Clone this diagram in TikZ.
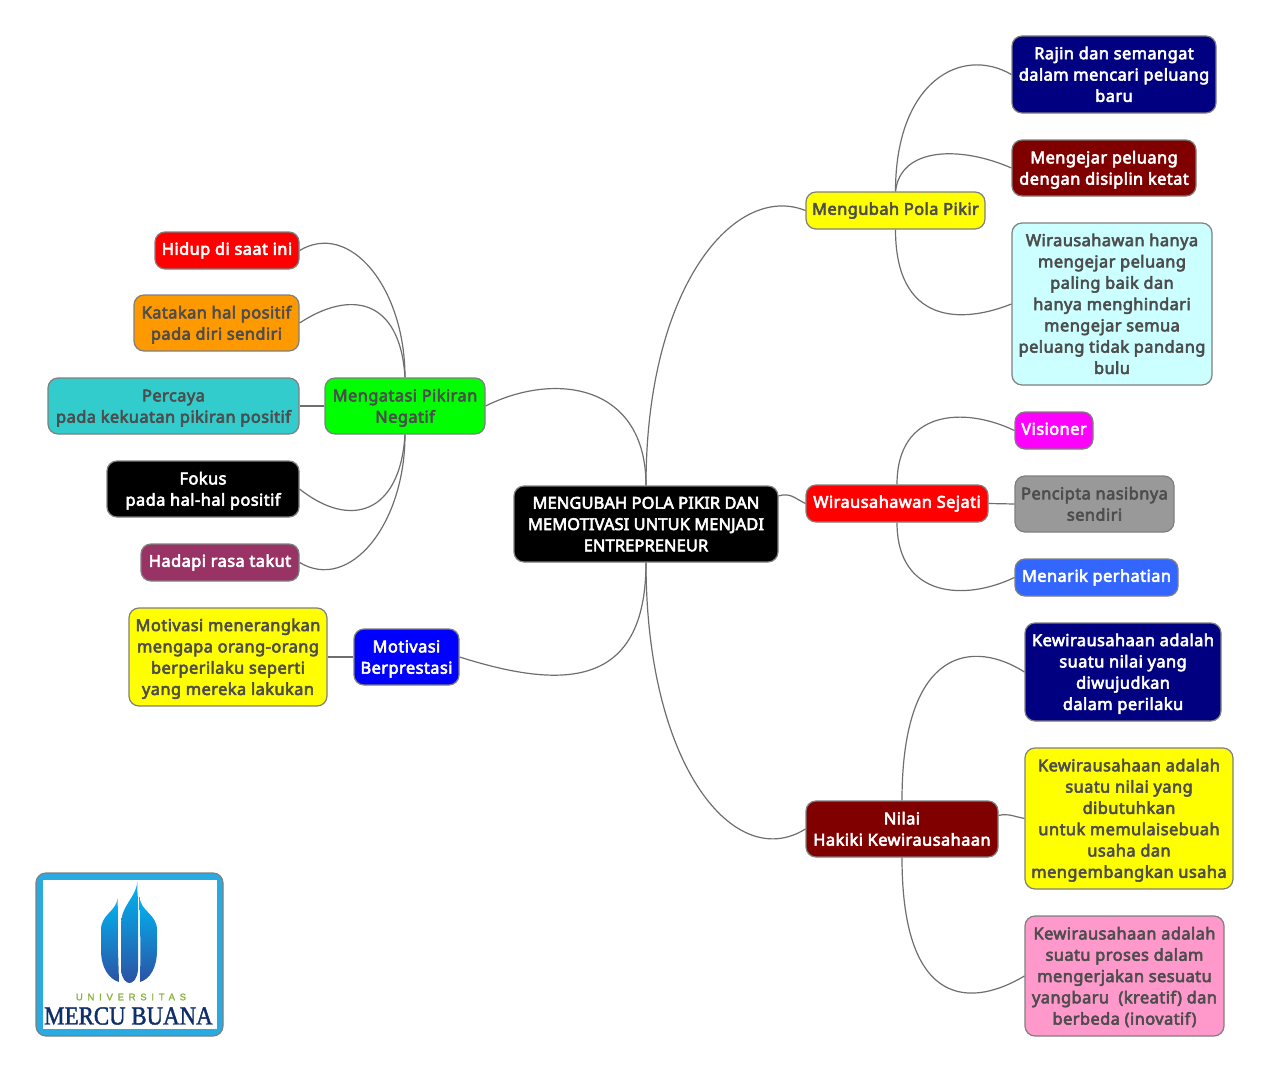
\documentclass[tikz,border=0pt]{standalone}
\usepackage{fontspec}
\setmainfont{Noto Sans}
\newfontfamily\topicFont[FakeBold=3.5, LetterSpace=2.7]{Noto Sans}
\newfontfamily\rootFont[FakeBold=3.5, LetterSpace=0.8]{Noto Sans}
\newfontfamily\logoSerif[FakeStretch=0.88, FakeBold=1.5]{Liberation Serif}
\newfontfamily\logoSans[LetterSpace=50, FakeBold=1.5]{Liberation Sans}
\usetikzlibrary{positioning}

\definecolor{lineGray}{HTML}{6E6E6E}
\definecolor{edgeGray}{HTML}{7F7F7F}
\definecolor{darkText}{HTML}{4D4D4D}
\definecolor{logoBlue}{HTML}{29ABE2}
\definecolor{boxYellow}{HTML}{FFFF00}
\definecolor{boxNavy}{HTML}{000080}
\definecolor{boxMaroon}{HTML}{800000}
\definecolor{boxRed}{HTML}{FF0000}
\definecolor{boxIce}{HTML}{CCFFFF}
\definecolor{boxMagenta}{HTML}{FF00FF}
\definecolor{boxGray}{HTML}{999999}
\definecolor{boxSky}{HTML}{3366FF}
\definecolor{boxPink}{HTML}{FF99CC}
\definecolor{boxGreen}{HTML}{00FF00}
\definecolor{boxOrange}{HTML}{FF9900}
\definecolor{boxTeal}{HTML}{33CCCC}
\definecolor{boxPlum}{HTML}{993366}
\definecolor{boxBlue}{HTML}{0000FF}
\definecolor{flameTop}{HTML}{00B5F1}
\definecolor{flameMid}{HTML}{0A7EC2}
\definecolor{flameEnd}{HTML}{2B52A4}
\definecolor{logoGreen}{HTML}{86B23E}
\definecolor{logoNavy}{HTML}{0F2F6B}

\newcommand{\lineStrut}{\rule[-5.5pt]{0pt}{19.5pt}}
\newcommand{\firstStrut}{\rule{0pt}{17.5pt}}

\tikzset{
    topicBox/.style={draw=edgeGray, line width=1.2pt, rounded corners=10pt, align=center, inner sep=0pt,
        font=\fontsize{16.4}{21.3}\topicFont, execute at end node=\lineStrut},
    darkBox/.style={topicBox, text=darkText},
    lightBox/.style={topicBox, text=white},
    linkLine/.style={draw=lineGray, line width=1.2pt},
    flamePart/.style={top color=flameTop, middle color=flameMid, bottom color=flameEnd}
}

\begin{document}
\begin{tikzpicture}[x=1pt, y=-1pt]
    \useasboundingbox (0, 0) rectangle (1270, 1073);

    % centre
    \node[lightBox, fill=black, minimum width=264pt, minimum height=76pt, font=\fontsize{16.4}{21.3}\rootFont] (root) at (646, 524)
        {\firstStrut MENGUBAH POLA PIKIR DAN\\MEMOTIVASI UNTUK MENJADI\\ENTREPRENEUR};

    % right side
    \node[darkBox, fill=boxYellow, minimum width=179pt, minimum height=37pt] (polaPikir) at (895.5, 210.5) {Mengubah Pola Pikir};
    \node[lightBox, fill=boxNavy, minimum width=204pt, minimum height=77pt] (rajin) at (1114, 74.5)
        {\firstStrut Rajin dan semangat\\dalam mencari peluang\\baru};
    \node[lightBox, fill=boxMaroon, minimum width=184pt, minimum height=56pt] (mengejar) at (1104, 168)
        {\firstStrut Mengejar peluang\\dengan disiplin ketat};
    \node[darkBox, fill=boxIce, minimum width=200pt, minimum height=162pt] (hanya) at (1112, 304)
        {\firstStrut Wirausahawan hanya\\mengejar peluang\\paling baik dan\\hanya menghindari\\mengejar semua\\peluang tidak pandang\\bulu};

    \node[lightBox, fill=boxRed, minimum width=182pt, minimum height=37pt] (sejati) at (897, 503.5) {Wirausahawan Sejati};
    \node[lightBox, fill=boxMagenta, minimum width=78pt, minimum height=37pt] (visioner) at (1054, 430.5) {Visioner};
    \node[darkBox, fill=boxGray, minimum width=159pt, minimum height=56pt] (pencipta) at (1094.5, 504) {\firstStrut Pencipta nasibnya\\sendiri};
    \node[lightBox, fill=boxSky, minimum width=163pt, minimum height=37pt] (menarik) at (1096.5, 577.5) {Menarik perhatian};

    \node[lightBox, fill=boxMaroon, minimum width=192pt, minimum height=56pt] (hakiki) at (902, 829) {\firstStrut Nilai\\Hakiki Kewirausahaan};
    \node[lightBox, fill=boxNavy, minimum width=196pt, minimum height=98pt] (nilaiSatu) at (1123, 672)
        {\firstStrut Kewirausahaan adalah\\suatu nilai yang\\diwujudkan\\dalam perilaku};
    \node[darkBox, fill=boxYellow, minimum width=208pt, minimum height=141pt] (nilaiDua) at (1129, 818.5)
        {\firstStrut Kewirausahaan adalah\\suatu nilai yang\\dibutuhkan\\untuk memulaisebuah\\usaha dan\\mengembangkan usaha};
    \node[darkBox, fill=boxPink, minimum width=199pt, minimum height=120pt] (nilaiTiga) at (1124.5, 976)
        {\firstStrut Kewirausahaan adalah\\suatu proses dalam\\mengerjakan sesuatu\\yangbaru\ \ (kreatif) dan\\berbeda (inovatif)};

    % left side
    \node[darkBox, fill=boxGreen, minimum width=160pt, minimum height=56pt] (negatif) at (405, 406) {\firstStrut Mengatasi Pikiran\\Negatif};
    \node[lightBox, fill=boxRed, minimum width=144pt, minimum height=37pt] (hidup) at (227, 250.5) {Hidup di saat ini};
    \node[darkBox, fill=boxOrange, minimum width=165pt, minimum height=56pt] (katakan) at (216.5, 323)
        {\firstStrut Katakan hal positif\\pada diri sendiri};
    \node[darkBox, fill=boxTeal, minimum width=251pt, minimum height=56pt] (percaya) at (173.5, 406)
        {\firstStrut Percaya\\pada kekuatan pikiran positif};
    \node[lightBox, fill=black, minimum width=192pt, minimum height=56pt] (fokus) at (203, 489) {\firstStrut Fokus\\pada hal-hal positif};
    \node[lightBox, fill=boxPlum, minimum width=158pt, minimum height=37pt] (takut) at (220, 562.5) {Hadapi rasa takut};

    \node[lightBox, fill=boxBlue, minimum width=105pt, minimum height=56pt] (prestasi) at (406.5, 657) {\firstStrut Motivasi\\Berprestasi};
    \node[darkBox, fill=boxYellow, minimum width=198pt, minimum height=98pt] (terangkan) at (228, 657)
        {\firstStrut Motivasi menerangkan\\mengapa orang-orang\\berperilaku seperti\\yang mereka lakukan};

    % curves from the centre
    \draw[linkLine] (root.north) .. controls +(0, -101) and +(70, -35) .. (negatif.east);
    \draw[linkLine] (root.north) .. controls +(0, -200) and +(-70, -28) .. (polaPikir.west);
    \draw[linkLine] (root.12) .. controls +(12, -3) and +(-12, -6) .. (sejati.west);
    \draw[linkLine] (root.south) .. controls +(0, 205) and +(-70, 44) .. (hakiki.west);
    \draw[linkLine] (root.south) .. controls +(0, 128) and +(101, 32) .. (prestasi.east);

    % curves right
    \draw[linkLine] (polaPikir.north) .. controls +(0, -110) and +(-50, -29) .. (rajin.west);
    \draw[linkLine] (polaPikir.north) .. controls +(5, -45) and +(-50, -22) .. (mengejar.west);
    \draw[linkLine] (polaPikir.south) .. controls +(0, 95) and +(-50, 20) .. (hanya.west);

    \draw[linkLine] (sejati.north) .. controls +(0, -75) and +(-50, -24) .. (visioner.west);
    \draw[linkLine] (sejati.east) -- (pencipta.west);
    \draw[linkLine] (sejati.south) .. controls +(0, 75) and +(-50, 24) .. (menarik.west);

    \draw[linkLine] (hakiki.north) .. controls +(0, -155) and +(-50, -32) .. (nilaiSatu.west);
    \draw[linkLine] (hakiki.8) .. controls +(10, -2) and +(-14, -3) .. (nilaiDua.west);
    \draw[linkLine] (hakiki.south) .. controls +(0, 155) and +(-50, 30) .. (nilaiTiga.west);

    % curves left
    \draw[linkLine] (negatif.north) .. controls +(0, -90) and +(50, -30) .. (hidup.east);
    \draw[linkLine] (negatif.north) .. controls +(-5, -80) and +(50, -33) .. (katakan.east);
    \draw[linkLine] (negatif.west) -- (percaya.east);
    \draw[linkLine] (negatif.south) .. controls +(-5, 80) and +(50, 40) .. (fokus.east);
    \draw[linkLine] (negatif.south) .. controls +(0, 90) and +(50, 30) .. (takut.east);
    \draw[linkLine] (prestasi.west) -- (terangkan.east);

    % logo
    \draw[draw=edgeGray, fill=logoBlue, line width=1.2pt, rounded corners=10pt] (36, 873) rectangle (223, 1036);
    \fill[white] (43, 880) rectangle (217, 1029);
    \shade[flamePart] (117.7, 898) .. controls (116, 912) and (101, 914) .. (101, 930)
        -- (101, 950) .. controls (101, 968) and (109, 979) .. (119, 982) -- (118, 950) -- cycle;
    \shade[flamePart] (137.3, 881.7) .. controls (136, 898) and (121, 905) .. (121, 925)
        -- (121, 970) .. controls (122, 979) and (126, 983) .. (129.5, 983)
        .. controls (133, 983) and (137, 979) .. (138, 970) -- (138, 905) .. controls (138, 895) and (137, 890) .. cycle;
    \shade[flamePart] (139.5, 897) .. controls (141, 912) and (157, 914) .. (157, 930)
        -- (157, 950) .. controls (157, 968) and (150, 979) .. (140, 982) -- (140.5, 950) -- cycle;
    \node[text=logoGreen, font=\logoSans\fontsize{9.5}{10}\selectfont, inner sep=0pt] (logoTop) at (131, 997) {UNIVERSITAS};
    \node[text=logoNavy, font=\logoSerif\fontsize{26}{28}\selectfont, inner sep=0pt] (logoName) at (128.5, 1016) {MERCU BUANA};
\end{tikzpicture}
\end{document}
